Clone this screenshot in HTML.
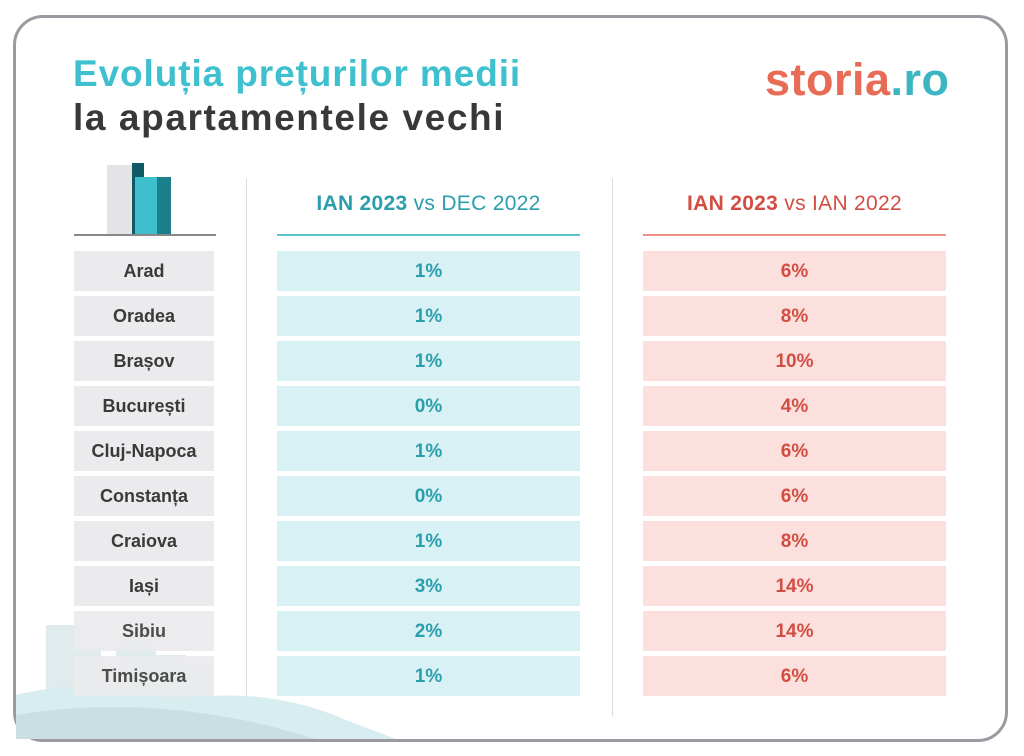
<!DOCTYPE html>
<html><head><meta charset="utf-8"><style>
body{margin:0;width:1024px;height:756px;background:#fff;position:relative;overflow:hidden;font-family:"Liberation Sans",sans-serif}
.card{position:absolute;left:13px;top:15px;width:995px;height:727px;border:3px solid #9b9aa0;border-radius:30px;box-sizing:border-box}
.t1{position:absolute;left:73px;top:53px;font-size:37px;font-weight:bold;color:#3ec0cf;letter-spacing:0.9px}
.t2{position:absolute;left:73px;top:97px;font-size:37px;font-weight:bold;color:#383838;letter-spacing:1.6px}
.logo{position:absolute;left:765px;top:54px;font-size:45px;font-weight:bold;color:#e86b55;letter-spacing:0.5px}
.logo span{color:#3db6c4}
.r{position:absolute;height:40px;line-height:42px;text-align:center;font-weight:bold;font-size:19px}
.l{left:74px;width:140px;background:#ebebed;color:#3a3a3a;font-size:18px;line-height:40px}
.m{left:277px;width:303px;background:#d8f1f4;color:#2b9eac}
.p{left:643px;width:303px;background:#fbe0dd;color:#d24e42}
.div{position:absolute;top:178px;width:1px;height:538px;background:#dcdcdc}
.h{position:absolute;top:192px;width:303px;text-align:center;font-size:21px;letter-spacing:0.3px}
.ul{position:absolute;top:234px;width:303px;height:2px}
</style></head><body>
<div class="card"></div>
<div class="t1">Evoluția prețurilor medii</div>
<div class="t2">la apartamentele vechi</div>
<div class="logo">storia<span>.ro</span></div>
<svg style="position:absolute;left:74px;top:163px" width="142" height="74">
<rect x="33" y="2" width="25" height="70" fill="#e4e4e6"/>
<rect x="58" y="0" width="12" height="72" fill="#0f5a64"/>
<rect x="61" y="14" width="22" height="58" fill="#3fbecd"/>
<rect x="83" y="14" width="14" height="58" fill="#1c7f8c"/>
<rect x="0" y="71" width="142" height="2" fill="#888"/>
</svg>
<div class="div" style="left:246px"></div>
<div class="div" style="left:612px"></div>
<div class="h" style="left:277px;color:#2b9eac"><b>IAN 2023</b> vs DEC 2022</div>
<div class="h" style="left:643px;color:#d24e42"><b>IAN 2023</b> vs IAN 2022</div>
<div class="ul" style="left:277px;background:#5bc3cf"></div>
<div class="ul" style="left:643px;background:#ef9285"></div>
<svg style="position:absolute;left:16px;top:615px" width="400" height="124">
<g fill="#d3e3e6" opacity="0.7">
<rect x="30" y="10" width="35" height="90"/><rect x="60" y="30" width="25" height="70"/>
<rect x="100" y="20" width="40" height="80"/><rect x="140" y="40" width="30" height="60"/>
<rect x="160" y="50" width="35" height="50"/></g>
<path d="M0 80 Q80 60 160 85 Q250 70 330 105 L380 124 L0 124Z" fill="#d8edf0"/>
<path d="M0 100 Q120 80 250 110 L300 124 L0 124Z" fill="#cadfe3"/>
</svg>
<div class="r l" style="top:251px">Arad</div><div class="r m" style="top:251px">1%</div><div class="r p" style="top:251px">6%</div>
<div class="r l" style="top:296px">Oradea</div><div class="r m" style="top:296px">1%</div><div class="r p" style="top:296px">8%</div>
<div class="r l" style="top:341px">Brașov</div><div class="r m" style="top:341px">1%</div><div class="r p" style="top:341px">10%</div>
<div class="r l" style="top:386px">București</div><div class="r m" style="top:386px">0%</div><div class="r p" style="top:386px">4%</div>
<div class="r l" style="top:431px">Cluj-Napoca</div><div class="r m" style="top:431px">1%</div><div class="r p" style="top:431px">6%</div>
<div class="r l" style="top:476px">Constanța</div><div class="r m" style="top:476px">0%</div><div class="r p" style="top:476px">6%</div>
<div class="r l" style="top:521px">Craiova</div><div class="r m" style="top:521px">1%</div><div class="r p" style="top:521px">8%</div>
<div class="r l" style="top:566px">Iași</div><div class="r m" style="top:566px">3%</div><div class="r p" style="top:566px">14%</div>
<div class="r l" style="top:611px;opacity:.9">Sibiu</div><div class="r m" style="top:611px">2%</div><div class="r p" style="top:611px">14%</div>
<div class="r l" style="top:656px;opacity:.9">Timișoara</div><div class="r m" style="top:656px">1%</div><div class="r p" style="top:656px">6%</div>
</body></html>
